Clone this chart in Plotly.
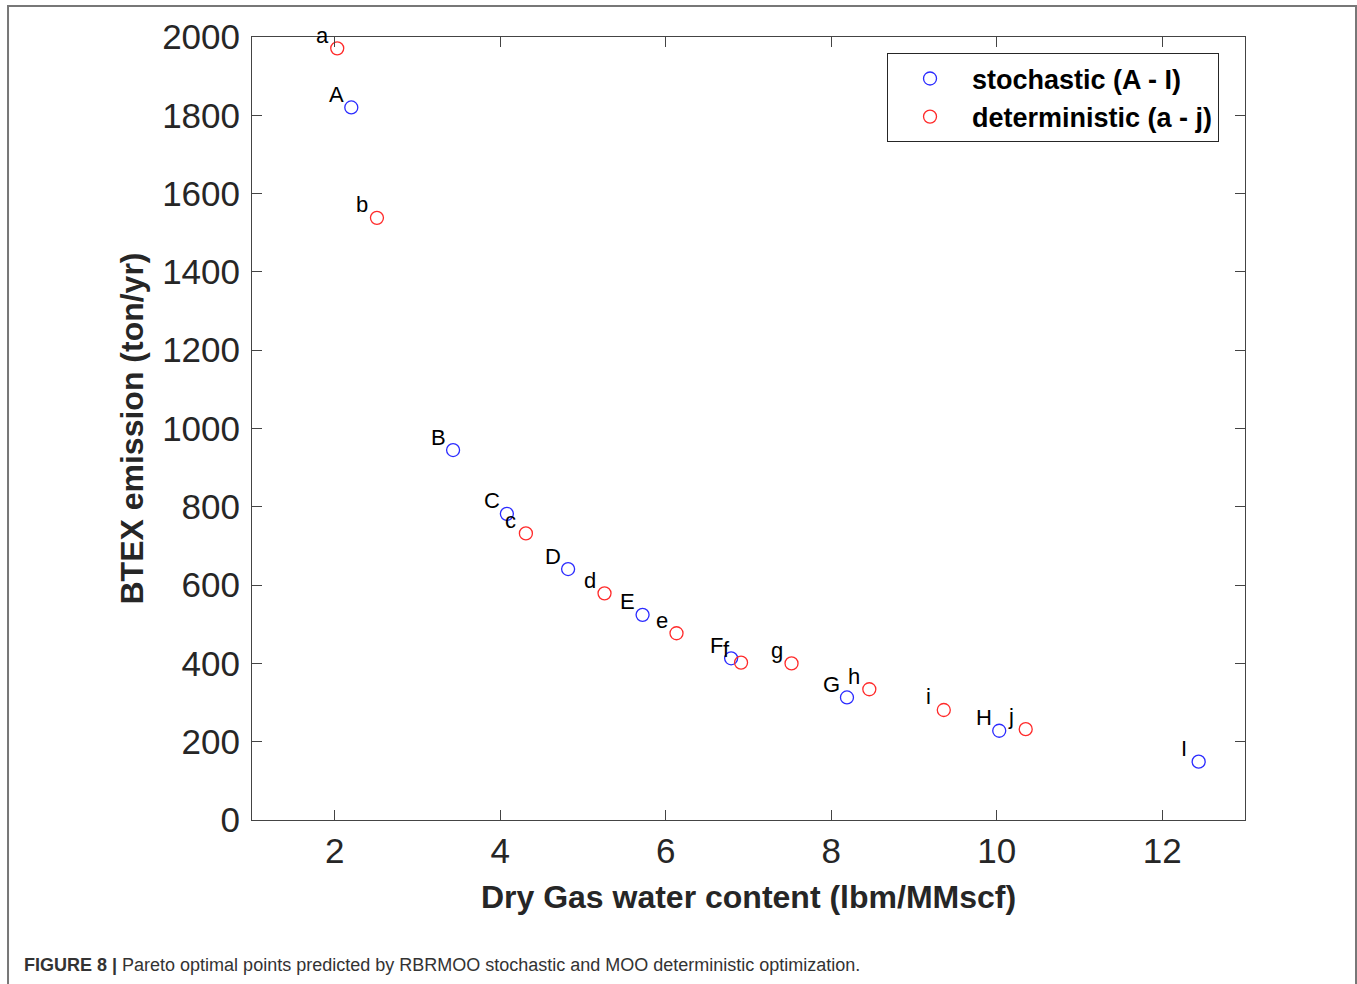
import plotly.graph_objects as go

# Stochastic (A - I)
stoch_labels = ["A", "B", "C", "D", "E", "F", "G", "H", "I"]
stoch_x = [2.20, 3.43, 4.08, 4.82, 5.72, 6.79, 8.19, 10.03, 12.44]
stoch_y = [1820, 945, 782, 641, 524, 413, 313, 228, 149]

# Deterministic (a - j)
det_labels = ["a", "b", "c", "d", "e", "f", "g", "h", "i", "j"]
det_x = [2.03, 2.51, 4.31, 5.26, 6.13, 6.91, 7.52, 8.46, 9.36, 10.35]
det_y = [1971, 1538, 732, 579, 477, 402, 400, 334, 281, 232]

x_ticks = [2, 4, 6, 8, 10, 12]
y_ticks = [0, 200, 400, 600, 800, 1000, 1200, 1400, 1600, 1800, 2000]

FONT = "Liberation Sans, Arial, Helvetica, sans-serif"

fig = go.Figure()
fig.add_trace(go.Scatter(
    x=stoch_x, y=stoch_y, mode="markers", name="stochastic (A - I)",
    marker=dict(symbol="circle-open", size=13, color="#2b2bff", line=dict(width=1.3, color="#2b2bff")),
))
fig.add_trace(go.Scatter(
    x=det_x, y=det_y, mode="markers", name="deterministic (a - j)",
    marker=dict(symbol="circle-open", size=13, color="#ff2a2a", line=dict(width=1.3, color="#ff2a2a")),
))

annotations = []
for lab, xv, yv in list(zip(stoch_labels, stoch_x, stoch_y)) + list(zip(det_labels, det_x, det_y)):
    annotations.append(dict(
        x=xv, y=yv, xref="x", yref="y", text=lab, showarrow=False,
        xshift=-15, yshift=13, font=dict(family=FONT, size=22, color="#000000"),
    ))

annotations.append(dict(
    xref="paper", yref="paper", x=-0.2316, y=-0.185, xanchor="left", yanchor="middle",
    text="<b>FIGURE 8 |</b> Pareto optimal points predicted by RBRMOO stochastic and MOO deterministic optimization.",
    showarrow=False, font=dict(family=FONT, size=18, color="#333333"),
))

fig.update_layout(
    width=1357, height=984,
    margin=dict(l=252, r=112, t=37, b=164),
    paper_bgcolor="white", plot_bgcolor="white",
    font=dict(family=FONT, color="#262626"),
    showlegend=True,
    legend=dict(
        x=0.6395, y=0.979, xanchor="left", yanchor="top",
        bordercolor="#262626", borderwidth=1, bgcolor="white",
        font=dict(family=FONT, size=27, color="#000000", weight="bold"),
        itemwidth=74, tracegroupgap=0,
    ),
    annotations=annotations,
    shapes=[dict(type="rect", xref="paper", yref="paper",
                 x0=-0.2457, x1=1.1118, y0=-0.22, y1=1.0396,
                 line=dict(color="#777777", width=2), layer="below")],
)

fig.update_xaxes(
    range=[1, 13], tickvals=x_ticks, ticks="inside", ticklen=10, tickcolor="#444444",
    showline=True, linecolor="#444444", linewidth=1, mirror="ticks",
    showgrid=False, zeroline=False,
    tickfont=dict(family=FONT, size=35, color="#262626"),
    title=dict(text="<b>Dry Gas water content (lbm/MMscf)</b>", standoff=16,
               font=dict(family=FONT, size=32, color="#262626")),
)
fig.update_yaxes(
    range=[0, 2000], tickvals=y_ticks, ticks="inside", ticklen=10, tickcolor="#444444",
    showline=True, linecolor="#444444", linewidth=1, mirror="ticks",
    showgrid=False, zeroline=False, ticklabelstandoff=4,
    tickfont=dict(family=FONT, size=35, color="#262626"),
    title=dict(text="<b>BTEX emission (ton/yr)</b>", standoff=8,
               font=dict(family=FONT, size=32, color="#262626")),
)

fig.write_html("out.html")
